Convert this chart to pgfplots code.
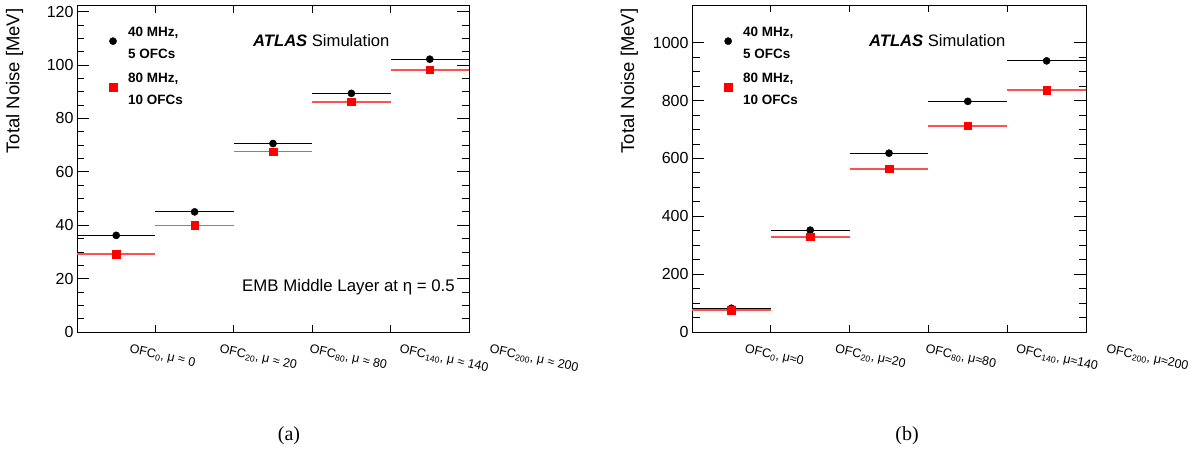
\documentclass[border=0pt]{standalone}
\usepackage{fontspec}
\setmainfont{Liberation Sans}
\newfontfamily\capfont{Liberation Serif}
\usepackage{pgfplots}
\pgfplotsset{compat=1.18}
\definecolor{rootred}{RGB}{255,0,0}
\definecolor{barred}{RGB}{255,80,80}
\begin{document}
\begin{tikzpicture}
\useasboundingbox (0pt,0pt) rectangle (1197pt,448pt);
\pgfplotsset{
  atlas/.style={
    scale only axis, height=327pt,
    xmin=0, xmax=5,
    xtick={0.5,1.5,2.5,3.5,4.5},
    minor xtick={1,2,3,4},
    major x tick style={draw=none},
    minor y tick num=3,
    major tick length=12pt, minor tick length=7.5pt,
    tick align=inside,
    axis line style={line width=0.9pt},
    every tick/.style={line width=0.8pt, black},
    /pgf/number format/assume math mode=true,
    /pgf/number format/1000 sep={},
    yticklabel style={font=\fontsize{16}{18}\selectfont},
    xticklabel style={font=\fontsize{12.5}{14}\selectfont, xshift={12pt+11.6pt*\ticknum}, yshift=-8pt, rotate=-12, anchor=north west},
    ylabel={Total Noise [MeV]},
    ylabel style={font=\fontsize{18.5}{20}\selectfont, at={(axis description cs:-0.128,1)}, anchor=south east},
    legend style={draw=none, fill=none, at={(axis description cs:0.074,0.956)}, anchor=north west, font=\bfseries\fontsize{13.5}{18}\selectfont, row sep=17pt},
    legend image code/.code={\path[draw=none, fill=none] (0pt,0pt) -- (13pt,0pt); \draw[#1, yshift=-5pt] plot coordinates {(0pt,0pt)};},
    legend cell align=left,
    clip=false,
  },
  blk/.style={only marks, mark=*, mark size=3.6pt, black,
    error bars/.cd, x dir=both, x explicit, error mark=none,
    error bar style={line width=1.1pt, black}},
  rd/.style={only marks, mark=square*, mark size=3.8pt, rootred,
    error bars/.cd, x dir=both, x explicit, error mark=none,
    error bar style={line width=1.8pt, barred}},
}
% ---------------- (a)
\begin{axis}[atlas, at={(77pt,116pt)}, anchor=south west, width=392pt,
  ymin=0, ymax=122.5, ytick={0,20,40,60,80,100,120},
  xticklabels={{OFC\textsubscript{0}, μ ≈ 0}, {OFC\textsubscript{20}, μ ≈ 20}, {OFC\textsubscript{80}, μ ≈ 80}, {OFC\textsubscript{140}, μ ≈ 140}, {OFC\textsubscript{200}, μ ≈ 200}}]
\addplot[blk] coordinates {(0.5,36.2) +- (0.5,0) (1.5,45.0) +- (0.5,0) (2.5,70.6) +- (0.5,0) (3.5,89.4) +- (0.5,0) (4.5,102.2) +- (0.5,0)};
\addlegendentry{\begin{tabular}{@{}l@{}}40 MHz,\\[4pt]5 OFCs\end{tabular}}
\addplot[rd] coordinates {(0.5,29.1) +- (0.5,0) (1.5,39.9) +- (0.5,0) (2.5,67.6) +- (0.5,0) (3.5,86.3) +- (0.5,0) (4.5,98.2) +- (0.5,0)};
\addlegendentry{\begin{tabular}{@{}l@{}}80 MHz,\\[4pt]10 OFCs\end{tabular}}
\node[anchor=base west, inner sep=0pt, font=\fontsize{16.6}{18}\selectfont] at (axis description cs:0.449,0.872) {\textbf{\textit{ATLAS}} Simulation};
\node[anchor=base east, inner sep=0pt, font=\fontsize{16.8}{18}\selectfont] at (axis description cs:0.964,0.125) {EMB Middle Layer at η = 0.5};
\end{axis}
% ---------------- (b)
\begin{axis}[atlas, at={(692pt,116pt)}, anchor=south west, width=394pt,
  ymin=0, ymax=1130, ytick={0,200,400,600,800,1000},
  xticklabels={{OFC\textsubscript{0}, μ≈0}, {OFC\textsubscript{20}, μ≈20}, {OFC\textsubscript{80}, μ≈80}, {OFC\textsubscript{140}, μ≈140}, {OFC\textsubscript{200}, μ≈200}}]
\addplot[blk] coordinates {(0.5,82) +- (0.5,0) (1.5,352) +- (0.5,0) (2.5,618) +- (0.5,0) (3.5,797) +- (0.5,0) (4.5,937) +- (0.5,0)};
\addlegendentry{\begin{tabular}{@{}l@{}}40 MHz,\\[4pt]5 OFCs\end{tabular}}
\addplot[rd] coordinates {(0.5,75) +- (0.5,0) (1.5,329) +- (0.5,0) (2.5,564) +- (0.5,0) (3.5,713) +- (0.5,0) (4.5,835) +- (0.5,0)};
\addlegendentry{\begin{tabular}{@{}l@{}}80 MHz,\\[4pt]10 OFCs\end{tabular}}
\node[anchor=base west, inner sep=0pt, font=\fontsize{16.6}{18}\selectfont] at (axis description cs:0.449,0.872) {\textbf{\textit{ATLAS}} Simulation};
\end{axis}
\node[font=\capfont\fontsize{20}{24}\selectfont] at (289pt,12pt) {(a)};
\node[font=\capfont\fontsize{20}{24}\selectfont] at (907pt,12pt) {(b)};
\end{tikzpicture}
\end{document}
